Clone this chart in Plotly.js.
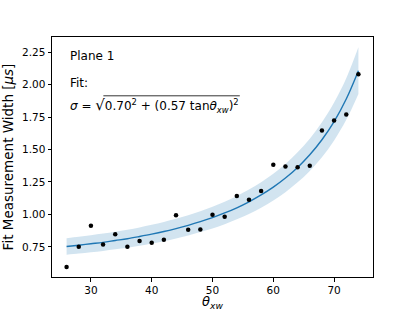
<!DOCTYPE html>
<html>
<head>
<meta charset="utf-8">
<script src="https://cdn.plot.ly/plotly-3.0.1.min.js"></script>
<style>html,body{margin:0;padding:0;background:#fff;}#chart{width:415px;height:311px;}</style>
</head>
<body>
<div id="chart"></div>
<script>
// Measured points
const theta = [26,28,30,32,34,36,38,40,42,44,46,48,50,52,54,56,58,60,62,64,66,68,70,72,74];
const width = [0.595,0.750,0.912,0.768,0.848,0.750,0.796,0.781,0.804,0.993,0.881,0.884,0.998,0.981,1.142,1.113,1.181,1.382,1.369,1.364,1.374,1.647,1.724,1.769,2.080];
// Fit curve and band
const fitTheta = [26,28,30,32,34,36,38,40,42,44,46,48,50,52,54,56,58,60,62,64,66,68,70,72,74];
const fitCenter = [0.753,0.763,0.774,0.785,0.799,0.813,0.830,0.848,0.868,0.891,0.916,0.944,0.975,1.011,1.051,1.097,1.150,1.210,1.280,1.362,1.459,1.575,1.715,1.889,2.107];
const fitLower = [0.689,0.698,0.708,0.719,0.731,0.744,0.759,0.776,0.794,0.815,0.838,0.864,0.892,0.925,0.962,1.004,1.052,1.107,1.171,1.247,1.335,1.441,1.570,1.728,1.928];
const fitUpper = [0.817,0.828,0.839,0.852,0.866,0.882,0.900,0.920,0.942,0.966,0.993,1.024,1.058,1.097,1.141,1.191,1.248,1.313,1.389,1.478,1.583,1.709,1.861,2.049,2.287];
const yTicks = [0.75,1.00,1.25,1.50,1.75,2.00,2.25];
const xTicks = [30,40,50,60,70];

const C0 = '#1f77b4';
const F = 'DejaVu Sans, sans-serif';

const traces = [
  {x: fitTheta, y: fitLower, mode:'lines', line:{width:0, shape:'spline'}, hoverinfo:'skip', showlegend:false},
  {x: fitTheta, y: fitUpper, mode:'lines', line:{width:0, shape:'spline'}, fill:'tonexty', fillcolor:'rgba(31,119,180,0.2)', hoverinfo:'skip', showlegend:false},
  {x: fitTheta, y: fitCenter, mode:'lines', line:{color:C0, width:1.4, shape:'spline'}, showlegend:false},
  {x: theta, y: width, mode:'markers', marker:{color:'#000', size:4.5}, showlegend:false}
];

const axisCommon = {
  showgrid:false, zeroline:false, showline:true, mirror:true, linecolor:'#000', linewidth:1,
  ticks:'outside', ticklen:3.5, tickwidth:1, tickcolor:'#000',
  tickfont:{family:F, size:10.5, color:'#000'}
};

const layout = {
  width:415, height:311,
  margin:{l:52, r:41.5, t:37, b:34, pad:0},
  paper_bgcolor:'#fff', plot_bgcolor:'#fff',
  font:{family:F, color:'#000'},
  xaxis: Object.assign({}, axisCommon, {
    range:[23.6,76.4], tickvals:xTicks, ticktext:xTicks.map(String),
    title:{text:'<i>θ</i><sub><i>xw</i></sub>', font:{family:F, size:13, color:'#000'}, standoff:4}
  }),
  yaxis: Object.assign({}, axisCommon, {
    range:[0.518,2.366], tickvals:yTicks, ticktext:yTicks.map(v=>v.toFixed(2)),
    title:{text:'Fit Measurement Width [<i>μs</i>]', font:{family:F, size:13.5, color:'#000'}, standoff:6}
  }),
  annotations:[
    {xref:'paper', yref:'paper', x:0.05, y:0.922, xanchor:'left', yanchor:'middle', showarrow:false,
     text:'Plane 1', font:{family:F, size:12, color:'#000'}},
    {xref:'paper', yref:'paper', x:0.05, y:0.807, xanchor:'left', yanchor:'middle', showarrow:false,
     text:'Fit:', font:{family:F, size:12, color:'#000'}},
    {xref:'paper', yref:'paper', x:0.05, y:0.715, xanchor:'left', yanchor:'middle', showarrow:false,
     text:"<i>σ</i> = <span style='font-size:15px'>√</span>0.70<sup>2</sup> + (0.57 tan<i>θ</i><sub><i>xw</i></sub>)<sup>2</sup>",
     font:{family:F, size:12, color:'#000'}}
  ],
  shapes:[
    {type:'line', xref:'paper', yref:'paper', x0:0.16, x1:0.585, y0:0.755, y1:0.755,
     line:{color:'#000', width:0.8}}
  ]
};

Plotly.newPlot('chart', traces, layout, {staticPlot:true, displayModeBar:false});
</script>
</body>
</html>
